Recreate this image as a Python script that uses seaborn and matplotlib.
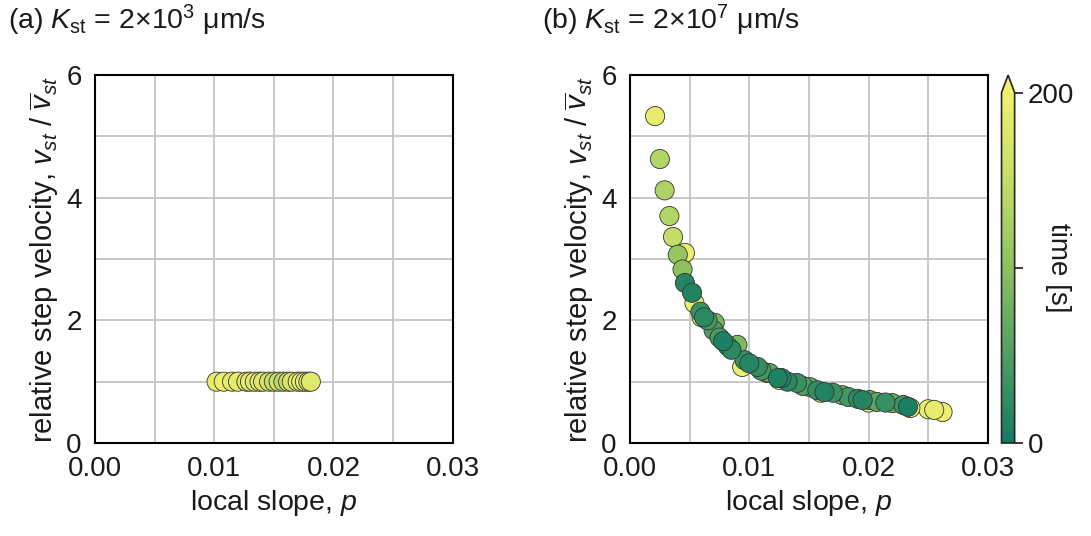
import numpy as np
import pandas as pd
import matplotlib
matplotlib.use("Agg")
import matplotlib.pyplot as plt
import seaborn as sns
from matplotlib.colors import LinearSegmentedColormap, Normalize
from matplotlib.cm import ScalarMappable
from matplotlib.ticker import MultipleLocator, FormatStrFormatter

# panel (a): K_st = 2e3, all steps move at the mean velocity
slope_a = [0.0102, 0.0108, 0.0115, 0.0120, 0.0127, 0.0130, 0.0134, 0.0138, 0.0141, 0.0146,
           0.0150, 0.0154, 0.0158, 0.0162, 0.0165, 0.0170, 0.0173, 0.0176, 0.0179, 0.0181]
vel_a = [1.0] * len(slope_a)
time_a = [190, 195, 185, 190, 180, 195, 185, 190, 175, 170,
          150, 160, 140, 155, 170, 185, 195, 190, 185, 180]

# panel (b): K_st = 2e7
slope_b = [0.0021, 0.0046, 0.0054, 0.0060, 0.0094, 0.0125, 0.0160, 0.0200, 0.0235, 0.0250,
           0.0255, 0.0262,
           0.0025, 0.0029, 0.0033, 0.0036, 0.0040, 0.0044,
           0.0046, 0.0052, 0.0059, 0.0065, 0.0071, 0.0070, 0.0078, 0.0085, 0.0090, 0.0096,
           0.0107, 0.0115, 0.0117, 0.0124, 0.0127, 0.0140, 0.0151, 0.0163, 0.0170, 0.0178,
           0.0191, 0.0201, 0.0195, 0.0207, 0.0220, 0.0229, 0.0233,
           0.0062, 0.0075, 0.0082, 0.0100, 0.0110, 0.0132, 0.0145, 0.0157, 0.0183, 0.0214]
vel_b = [5.33, 3.10, 2.28, 2.05, 1.24, 1.03, 0.82, 0.66, 0.57, 0.55,
         0.54, 0.505,
         4.63, 4.12, 3.70, 3.36, 3.07, 2.83,
         2.61, 2.45, 2.14, 2.00, 1.96, 1.84, 1.66, 1.52, 1.60, 1.35,
         1.24, 1.14, 1.14, 1.06, 1.06, 0.98, 0.91, 0.83, 0.82, 0.78,
         0.72, 0.70, 0.70, 0.67, 0.65, 0.62, 0.59,
         2.05, 1.72, 1.58, 1.30, 1.18, 1.00, 0.93, 0.86, 0.75, 0.66]
time_b = [190, 195, 195, 195, 195, 195, 195, 195, 195, 195,
          190, 198,
          135, 130, 135, 150, 110, 100,
          15, 12, 30, 40, 85, 50, 8, 20, 90, 30,
          25, 70, 60, 10, 15, 30, 70, 12, 30, 80,
          20, 60, 15, 60, 70, 35, 8,
          20, 45, 35, 15, 40, 20, 50, 25, 40, 30]

df_a = pd.DataFrame({"p": slope_a, "v": vel_a, "t": time_a})
df_b = pd.DataFrame({"p": slope_b, "v": vel_b, "t": time_b})
df_b = df_b.sort_values("t", ascending=False)

sns.set_style("white")
plt.rcParams["font.family"] = ["Liberation Sans", "DejaVu Sans"]
plt.rcParams["mathtext.fontset"] = "custom"
plt.rcParams["mathtext.rm"] = "Liberation Sans"
plt.rcParams["mathtext.it"] = "Liberation Sans:italic"
for key in ["text.color", "axes.labelcolor", "xtick.color", "ytick.color"]:
    plt.rcParams[key] = "#1a1a1a"

cmap = LinearSegmentedColormap.from_list(
    "time", ["#137a62", "#4f9f62", "#8cc15f", "#c4dd67", "#f0f06e"])
norm = Normalize(0, 200)

fig = plt.figure(figsize=(10.91, 5.36), dpi=100)
ax_a = fig.add_axes([0.087, 0.1735, 0.328, 0.6865])
ax_b = fig.add_axes([0.5775, 0.1735, 0.328, 0.6865])
cax = fig.add_axes([0.918, 0.1735, 0.012, 0.6865])

for ax, d in [(ax_a, df_a), (ax_b, df_b)]:
    sns.scatterplot(data=d, x="p", y="v", hue="t", palette=cmap, hue_norm=norm,
                    s=190, edgecolor="#333333", linewidth=0.6, legend=False, ax=ax, zorder=3)
    ax.set_xlim(0, 0.03)
    ax.set_ylim(0, 6)
    ax.xaxis.set_major_locator(MultipleLocator(0.01))
    ax.xaxis.set_minor_locator(MultipleLocator(0.005))
    ax.xaxis.set_major_formatter(FormatStrFormatter("%.2f"))
    ax.yaxis.set_major_locator(MultipleLocator(2))
    ax.yaxis.set_minor_locator(MultipleLocator(1))
    ax.grid(True, which="both", color="#c8c8c8", lw=1.4)
    ax.set_axisbelow(True)
    for sp in ax.spines.values():
        sp.set_color("black")
        sp.set_linewidth(1.5)
    ax.tick_params(which="major", direction="inout", length=11, width=1.4, labelsize=20, pad=4)
    ax.tick_params(which="minor", direction="out", length=5, width=1.2)
    ax.set_xlabel("local slope, $p$", fontsize=20.5, labelpad=4)
    ax.set_ylabel(r"relative step velocity, $v_{st}$ / $\overline{v}_{st}$", fontsize=21, labelpad=4)

cb = fig.colorbar(ScalarMappable(norm=norm, cmap=cmap), cax=cax, extend="max")
cb.set_ticks([0, 100, 200])
cb.set_ticklabels(["0", "", "200"])
cb.ax.tick_params(direction="out", length=6, width=1.2, labelsize=20)
cb.outline.set_linewidth(1.2)
cax.text(4.3, 0.5, "time [s]", rotation=270, fontsize=20, ha="center", va="center",
         transform=cax.transAxes)

fig.text(0.007, 0.962, r"(a) $K_{\mathrm{st}}$ = 2×10$^{3}$ μm/s", fontsize=20.5, va="center")
fig.text(0.497, 0.962, r"(b) $K_{\mathrm{st}}$ = 2×10$^{7}$ μm/s", fontsize=20.5, va="center")

fig.savefig("out.png", dpi=100)
